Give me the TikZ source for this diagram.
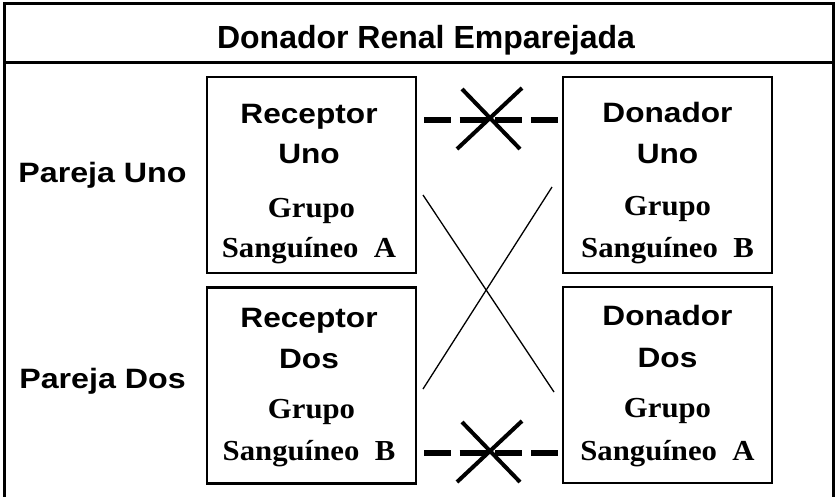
\documentclass[tikz,border=0pt]{standalone}
\usepackage{fontspec}
\setmainfont{Liberation Sans}
\newfontfamily\tmsfont{Liberation Serif}
\newcommand{\hsc}[2]{\scalebox{#1}[1]{#2}}
\begin{document}
\begin{tikzpicture}[x=1pt,y=-1pt,
  frame/.style={line width=3pt},
  box/.style={draw,line width=2.5pt,inner sep=0pt,minimum width=209pt,minimum height=196pt},
  titletxt/.style={anchor=base,inner sep=0pt,font=\bfseries\fontsize{32}{34}\selectfont},
  sanstxt/.style={anchor=base,inner sep=0pt,font=\bfseries\fontsize{28}{30}\selectfont},
  sertxt/.style={anchor=base,inner sep=0pt,font=\tmsfont\bfseries\fontsize{29}{31}\selectfont},
  blocked/.style={line width=6.5pt,dash pattern=on 27pt off 8.7pt},
  cross/.style={line width=4pt},
  thinline/.style={line width=1.3pt}]
\useasboundingbox (0,0) rectangle (835,496);
% frame and header
\draw[frame] (4,497) -- (4,3) -- (833,3) -- (833,497);
\draw[frame] (4,62) -- (833,62);
\node[titletxt] (title) at (426,48) {Donador Renal Emparejada};
% pair labels
\node[sanstxt] (p1) at (102.5,182) {\hsc{1.15}{Pareja Uno}};
\node[sanstxt] (p2) at (102.5,388) {\hsc{1.15}{Pareja Dos}};
% boxes
\node[box] (ru) at (311.5,175) {};
\node[box] (rd) at (311.5,385.5) {};
\node[box] (du) at (667.5,175) {};
\node[box] (dd) at (667.5,385) {};
% box texts
\node[sanstxt] (ru1) at (309,123) {\hsc{1.13}{Receptor}};
\node[sanstxt] (ru2) at (309,163) {\hsc{1.13}{Uno}};
\node[sertxt] (ru3) at (311.5,217) {\hsc{1.06}{Grupo}};
\node[sertxt] (ru4) at (309,257) {\hsc{1.06}{Sanguíneo\ \ A}};
\node[sanstxt] (rd1) at (309,327) {\hsc{1.13}{Receptor}};
\node[sanstxt] (rd2) at (309,368) {\hsc{1.13}{Dos}};
\node[sertxt] (rd3) at (311.5,418) {\hsc{1.06}{Grupo}};
\node[sertxt] (rd4) at (309,460) {\hsc{1.06}{Sanguíneo\ \ B}};
\node[sanstxt] (du1) at (667.5,122) {\hsc{1.13}{Donador}};
\node[sanstxt] (du2) at (667.5,163) {\hsc{1.13}{Uno}};
\node[sertxt] (du3) at (667.5,215) {\hsc{1.06}{Grupo}};
\node[sertxt] (du4) at (667.5,257) {\hsc{1.06}{Sanguíneo\ \ B}};
\node[sanstxt] (dd1) at (667.5,325) {\hsc{1.13}{Donador}};
\node[sanstxt] (dd2) at (667.5,367) {\hsc{1.13}{Dos}};
\node[sertxt] (dd3) at (667.5,417) {\hsc{1.06}{Grupo}};
\node[sertxt] (dd4) at (667.5,460) {\hsc{1.06}{Sanguíneo\ \ A}};
% blocked direct matches
\coordinate (b1s) at (424,120);
\coordinate (b1e) at (558,120);
\coordinate (b2s) at (424,453);
\coordinate (b2e) at (558,453);
\draw[blocked] (b1s) -- (b1e);
\draw[blocked] (b2s) -- (b2e);
\coordinate (x1) at (490,119);
\coordinate (x2) at (490,452);
\draw[cross] (x1) ++(-28,-30) -- ++(58,60);
\draw[cross] (x1) ++(32,-31) -- ++(-65,61);
\draw[cross] (x2) ++(-28,-30) -- ++(58,60);
\draw[cross] (x2) ++(32,-31) -- ++(-65,61);
% paired exchange
\coordinate (c1s) at (423,195);
\coordinate (c1e) at (554,392);
\coordinate (c2s) at (552,187);
\coordinate (c2e) at (423,389);
\draw[thinline] (c1s) -- (c1e);
\draw[thinline] (c2s) -- (c2e);
\end{tikzpicture}
\end{document}
